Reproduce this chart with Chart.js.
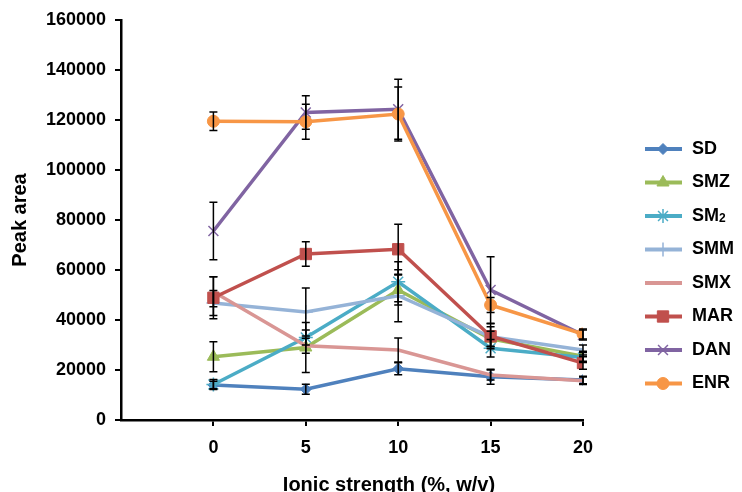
<!DOCTYPE html>
<html>
<head>
<meta charset="utf-8">
<script src="https://cdn.jsdelivr.net/npm/chart.js@4.4.0/dist/chart.umd.min.js"></script>
<style>
  html, body { margin: 0; padding: 0; background: #fff; }
  canvas { display: block; }
</style>
</head>
<body>
<canvas id="chart" width="742" height="492"></canvas>
<script>
// ionic strength levels (%, w/v)
const ionicStrength = [0, 5, 10, 15, 20];
const yTicks = [0, 20000, 40000, 60000, 80000, 100000, 120000, 140000, 160000];

// peak areas
const sdValues  = [14000, 12300, 20500, 17300, 16000];
const smzValues = [25300, 29000, 52000, 32500, 25500];
const sm2Values = [14200, 33000, 55300, 28700, 25000];
const smmValues = [46800, 43200, 49700, 33300, 28000];
const smxValues = [51300, 29700, 28000, 18000, 15700];
const marValues = [48900, 66400, 68300, 33500, 22800];
const danValues = [75600, 123000, 124300, 52000, 34000];
const enrValues = [119500, 119300, 122400, 46000, 34400];

// error bar half-widths
const sdErr  = [1500, 2000, 2400, 3000, 1500];
const smzErr = [6000, 10000, 6000, 3000, 2000];
const sm2Err = [2000, 3000, 8000, 3500, 2000];
const smmErr = [5000, 9600, 10400, 4000, 2000];
const smxErr = [6000, 3000, 4800, 2000, 1500];
const marErr = [8400, 4900, 10000, 5000, 2500];
const danErr = [11500, 6700, 12000, 13300, 2000];
const enrErr = [3700, 7000, 10800, 3000, 2000];

const FONT = "'Liberation Sans', Arial, sans-serif";

const series = [
  { label: 'SD',  values: sdValues,  err: sdErr,  color: '#4F81BD', point: 'rectRot',  radius: 5.5 },
  { label: 'SMZ', values: smzValues, err: smzErr, color: '#9BBB59', point: 'triangle', radius: 7 },
  { label: 'SM2', values: sm2Values, err: sm2Err, color: '#4BACC6', point: 'star',     radius: 7 },
  { label: 'SMM', values: smmValues, err: smmErr, color: '#95B3D7', point: 'cross',    radius: 7 },
  { label: 'SMX', values: smxValues, err: smxErr, color: '#D99694', point: 'circle',   radius: 0 },
  { label: 'MAR', values: marValues, err: marErr, color: '#C0504D', point: 'rect',     radius: 8 },
  { label: 'DAN', values: danValues, err: danErr, color: '#8064A2', point: 'crossRot', radius: 7 },
  { label: 'ENR', values: enrValues, err: enrErr, color: '#F79646', point: 'circle',   radius: 6 }
];

const datasets = series.map((s, i) => ({
  label: s.label,
  data: ionicStrength.map((x, j) => ({ x: x, y: s.values[j] })),
  errors: s.err,
  borderColor: s.color,
  backgroundColor: s.color,
  borderWidth: 3.5,
  pointStyle: s.point,
  pointRadius: s.radius,
  pointHoverRadius: s.radius,
  pointBorderWidth: (s.point === 'star' || s.point === 'cross' || s.point === 'crossRot') ? 1.5 : 1,
  pointBackgroundColor: s.color,
  pointBorderColor: s.color,
  tension: 0,
  order: series.length - i
}));

// error bars in black
const errorBars = {
  id: 'errorBars',
  afterDatasetsDraw(chart) {
    const ctx = chart.ctx;
    const yScale = chart.scales.y;
    ctx.save();
    ctx.strokeStyle = '#000';
    ctx.lineWidth = 1.5;
    chart.data.datasets.forEach((ds, i) => {
      const meta = chart.getDatasetMeta(i);
      meta.data.forEach((pt, j) => {
        const v = ds.data[j].y;
        const e = ds.errors[j];
        const top = yScale.getPixelForValue(v + e);
        const bot = yScale.getPixelForValue(v - e);
        ctx.beginPath();
        ctx.moveTo(pt.x, top); ctx.lineTo(pt.x, bot);
        ctx.moveTo(pt.x - 4, top); ctx.lineTo(pt.x + 4, top);
        ctx.moveTo(pt.x - 4, bot); ctx.lineTo(pt.x + 4, bot);
        ctx.stroke();
      });
    });
    ctx.restore();
  }
};

// legend with line + marker, and the x axis title
const sideLegend = {
  id: 'sideLegend',
  afterDraw(chart) {
    const ctx = chart.ctx;
    const area = chart.chartArea;
    const x0 = area.right + 62;
    const y0 = area.top + 129;
    const rowH = 33.5;
    ctx.save();
    chart.data.datasets.forEach((ds, i) => {
      const y = y0 + i * rowH;
      ctx.strokeStyle = ds.borderColor;
      ctx.lineWidth = 4;
      ctx.beginPath();
      ctx.moveTo(x0, y); ctx.lineTo(x0 + 37, y);
      ctx.stroke();
      if (ds.pointRadius > 0) {
        ctx.fillStyle = ds.pointBackgroundColor;
        ctx.strokeStyle = ds.pointBorderColor;
        ctx.lineWidth = ds.pointBorderWidth;
        Chart.helpers.drawPoint(ctx, { pointStyle: ds.pointStyle, radius: ds.pointRadius, borderWidth: ds.pointBorderWidth }, x0 + 18, y);
      }
      ctx.fillStyle = '#000';
      ctx.font = 'bold 18px ' + FONT;
      ctx.textBaseline = 'middle';
      ctx.textAlign = 'left';
      if (ds.label === 'SM2') {
        ctx.fillText('SM', x0 + 47, y);
        const w = ctx.measureText('SM').width;
        ctx.font = 'bold 12px ' + FONT;
        ctx.fillText('2', x0 + 47 + w, y + 3);
      } else {
        ctx.fillText(ds.label, x0 + 47, y);
      }
    });
    ctx.font = 'bold 20px ' + FONT;
    ctx.textAlign = 'center';
    ctx.textBaseline = 'middle';
    ctx.fillText('Ionic strength (%, w/v)', area.left + (area.right - area.left) * 0.58, area.bottom + 65);
    ctx.restore();
  }
};

new Chart(document.getElementById('chart').getContext('2d'), {
  type: 'line',
  data: { datasets: datasets },
  plugins: [errorBars, sideLegend],
  options: {
    responsive: false,
    animation: false,
    devicePixelRatio: 1,
    layout: { padding: { left: 8, top: 20, right: 159, bottom: 0 } },
    plugins: {
      legend: { display: false },
      tooltip: { enabled: false }
    },
    scales: {
      x: {
        type: 'linear',
        min: -5,
        max: 20,
        afterBuildTicks: (scale) => {
          scale.ticks = ionicStrength.map(v => ({ value: v }));
        },
        afterFit: (scale) => { scale.height = 72; },
        ticks: {
          color: '#000',
          font: { family: FONT, size: 18, weight: 'bold' },
          padding: 11,
          maxRotation: 0
        },
        grid: { drawOnChartArea: false, color: '#000', lineWidth: 2, tickLength: 6 },
        border: { color: '#000', width: 2.5 }
      },
      y: {
        min: 0,
        max: 160000,
        afterBuildTicks: (scale) => {
          scale.ticks = yTicks.map(v => ({ value: v }));
        },
        afterFit: (scale) => { scale.width = 113; },
        ticks: {
          color: '#000',
          font: { family: FONT, size: 18, weight: 'bold' },
          padding: 9,
          callback: (v) => String(v)
        },
        title: {
          display: true,
          text: 'Peak area',
          color: '#000',
          font: { family: FONT, size: 20, weight: 'bold' },
          padding: 0
        },
        grid: { drawOnChartArea: false, color: '#000', lineWidth: 2, tickLength: 6 },
        border: { color: '#000', width: 2.5 }
      }
    }
  }
});
</script>
</body>
</html>
